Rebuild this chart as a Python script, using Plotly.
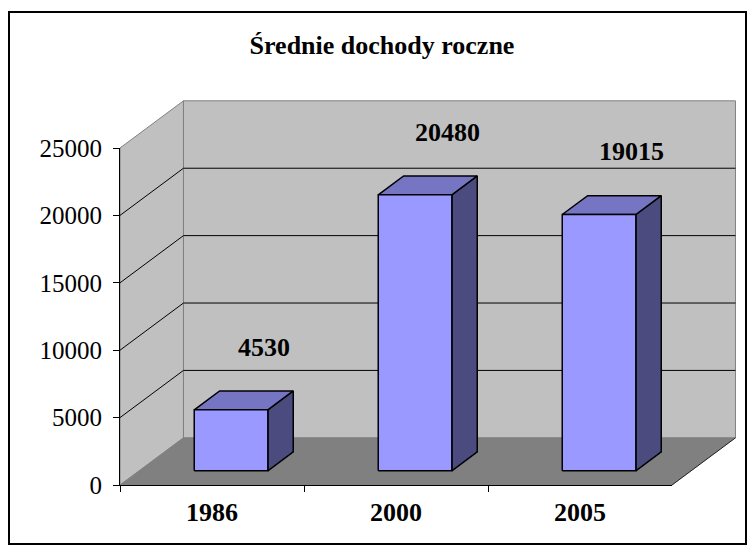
import plotly.graph_objects as go

# ---- data ----
years = ["1986", "2000", "2005"]
incomes = [4530, 20480, 19015]
y_ticks = [0, 5000, 10000, 15000, 20000, 25000]
y_tick_labels = ["0", "5000", "10000", "15000", "20000", "25000"]
title_text = "Średnie dochody roczne"

# ---- style / geometry constants ----
OFF = 8                      # page (body) margin of the html page
W, H = 755 - 2 * OFF, 553 - 2 * OFF
FONT = "Liberation Serif"
DX = 0.345      # 3D depth in category units
DY = 3500       # 3D depth in value units
YMAX = 25000
BAR_W = 0.4
F0, F1 = 0.3, 0.7          # bar depth span (fraction of full depth)
LABEL_DX = 0.11
LABEL_DY = 5700

FRONT_COL = "#9999FF"
TOP_COL = "#7575C4"
SIDE_COL = "#4B4B80"
WALL_COL = "#C0C0C0"
FLOOR_COL = "#808080"
EDGE_GRAY = "#808080"


def fx(p):  # target pixel x -> paper fraction
    return (p - OFF) / W


def fy(p):  # target pixel y -> paper fraction
    return 1 - (p - OFF) / H


# pixel frame of the front axes (target picture coordinates)
PX_L, PX_R_FRONT, PX_BOTTOM, PX_TOP_FRONT = 120, 672, 485, 148
front_w = PX_R_FRONT - PX_L
front_h = PX_BOTTOM - PX_TOP_FRONT
ncat = len(years)
a_right = PX_L + front_w * (ncat + DX) / ncat
a_top = PX_BOTTOM - front_h * (YMAX + DY) / YMAX
PAD = 3
pad_x = PAD * ncat / front_w
pad_y = PAD * YMAX / front_h

x0, x1 = -0.5, ncat - 0.5


def poly(xs, ys, fill, line, width=1.0):
    return go.Scatter(
        x=xs + [xs[0]], y=ys + [ys[0]], mode="lines", fill="toself",
        fillcolor=fill, line=dict(color=line, width=width),
        hoverinfo="skip", showlegend=False, xaxis="x", yaxis="y",
    )


traces = []
# walls
traces.append(poly([x0, x0 + DX, x0 + DX, x0], [0, DY, YMAX + DY, YMAX], WALL_COL, EDGE_GRAY))
traces.append(poly([x0 + DX, x1 + DX, x1 + DX, x0 + DX], [DY, DY, YMAX + DY, YMAX + DY], WALL_COL, EDGE_GRAY))
# floor
traces.append(poly([x0, x1, x1 + DX, x0 + DX], [0, 0, DY, DY], FLOOR_COL, FLOOR_COL, 0.5))
traces.append(go.Scatter(x=[x1, x1 + DX], y=[0, DY], mode="lines",
                         line=dict(color="#202020", width=1), hoverinfo="skip",
                         showlegend=False, xaxis="x", yaxis="y"))
# gridlines
gx, gy = [], []
for v in y_ticks[1:-1]:
    gx += [x0, x0 + DX, x1 + DX, None]
    gy += [v, v + DY, v + DY, None]
traces.append(go.Scatter(x=gx, y=gy, mode="lines", line=dict(color="black", width=1),
                         hoverinfo="skip", showlegend=False, xaxis="x", yaxis="y"))

# bars
annotations = []
ddx = (F1 - F0) * DX
ddy = (F1 - F0) * DY
for i, v in enumerate(incomes):
    bx0 = i - BAR_W / 2 + F0 * DX
    bx1 = bx0 + BAR_W
    by0 = F0 * DY
    by1 = v + F0 * DY
    traces.append(poly([bx1, bx1 + ddx, bx1 + ddx, bx1], [by0, by0 + ddy, by1 + ddy, by1], SIDE_COL, "black", 1.5))
    traces.append(poly([bx0, bx1, bx1 + ddx, bx0 + ddx], [by1, by1, by1 + ddy, by1 + ddy], TOP_COL, "black", 1.5))
    traces.append(poly([bx0, bx1, bx1, bx0], [by0, by0, by1, by1], FRONT_COL, "black", 1.5))
    annotations.append(dict(
        x=i + DX * 0.5 + LABEL_DX, y=v + LABEL_DY, xref="x", yref="y",
        text=str(v), showarrow=False,
        font=dict(family=FONT, size=26, color="black", weight="bold"),
    ))

# invisible trace to drive the category axis of the front frame
traces.append(go.Scatter(x=years, y=incomes, xaxis="x2", yaxis="y2", mode="markers",
                         marker=dict(opacity=0), hoverinfo="skip", showlegend=False))

fig = go.Figure(traces)
fig.update_layout(
    width=W, height=H,
    margin=dict(l=0, r=0, t=0, b=0, pad=0, autoexpand=False),
    paper_bgcolor="white",
    plot_bgcolor="rgba(0,0,0,0)",
    showlegend=False,
    title=dict(text=title_text, x=fx(382), y=fy(45), xanchor="center", yanchor="middle",
               automargin=False,
               font=dict(family=FONT, size=26, color="black", weight="bold")),
    xaxis=dict(domain=[fx(PX_L - PAD), fx(a_right + PAD)],
               range=[x0 - pad_x, x1 + DX + pad_x], visible=False, fixedrange=True,
               automargin=False),
    yaxis=dict(domain=[fy(PX_BOTTOM + PAD), fy(a_top - PAD)],
               range=[-pad_y, YMAX + DY + pad_y], visible=False, fixedrange=True,
               automargin=False),
    xaxis2=dict(domain=[fx(PX_L), fx(PX_R_FRONT)], anchor="y2", type="category",
                categoryorder="array", categoryarray=years, range=[-0.5, ncat - 0.5],
                tickson="boundaries", ticks="outside", ticklen=6, tickcolor="black",
                showline=True, linecolor="black", linewidth=1, showgrid=False,
                zeroline=False, ticklabelstandoff=4, fixedrange=True, automargin=False,
                tickfont=dict(family=FONT, size=26, color="black", weight="bold")),
    yaxis2=dict(domain=[fy(PX_BOTTOM), fy(PX_TOP_FRONT)], anchor="x2",
                range=[0, YMAX], tickvals=y_ticks, ticktext=y_tick_labels,
                ticks="outside", ticklen=6,
                tickcolor="black", showline=True, linecolor="black", linewidth=1,
                showgrid=False, zeroline=False, ticklabelstandoff=6, fixedrange=True,
                automargin=False,
                tickfont=dict(family=FONT, size=25, color="black")),
    annotations=annotations,
    shapes=[dict(type="rect", xref="paper", yref="paper",
                 x0=1 / W, x1=(W - 1) / W, y0=1 / H, y1=fy(12),
                 line=dict(color="black", width=2))],
)
fig.write_html("out.html")
